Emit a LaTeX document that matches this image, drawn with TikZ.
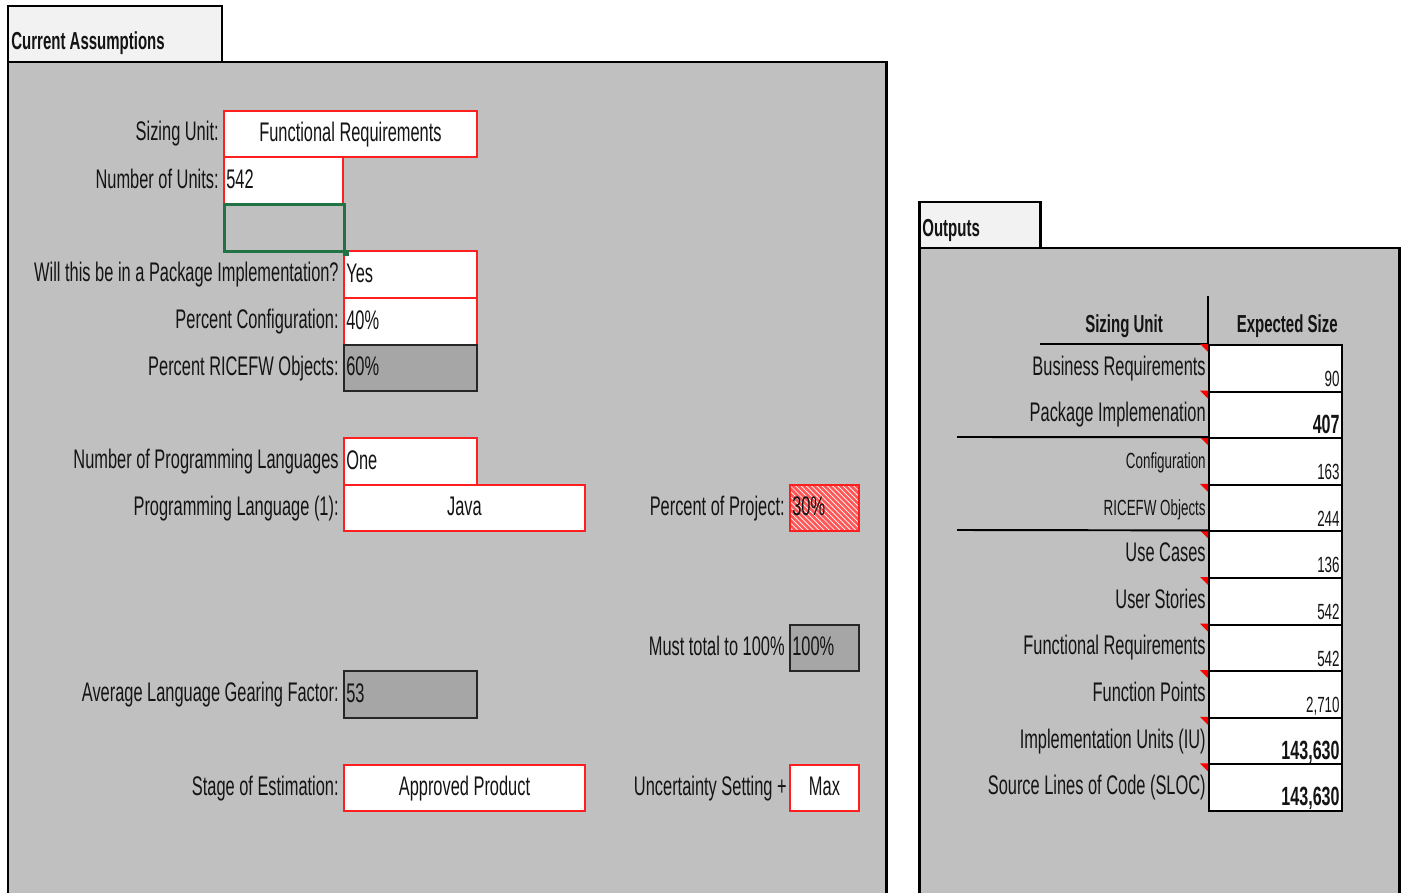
\documentclass[tikz,border=0pt]{standalone}
\usepackage{fontspec}
\setmainfont[FakeStretch=0.61]{Liberation Sans}
\usetikzlibrary{positioning}
\usetikzlibrary{patterns}
\definecolor{panelgray}{HTML}{C0C0C0}
\definecolor{tabgray}{HTML}{F2F2F2}
\definecolor{calcgray}{HTML}{A6A6A6}
\definecolor{selgreen}{HTML}{217346}
\definecolor{inred}{HTML}{FF1F1F}
\def\px{0.02cm}
\tikzstyle{panel}=[draw=black, fill=panelgray, line width=1.7pt]
\tikzstyle{tabbox}=[draw=black, fill=tabgray, line width=1.7pt]
\tikzstyle{lbl}=[anchor=east, inner sep=0pt, text height=1.1em, text depth=0.2em]
\tikzstyle{txt}=[inner sep=0pt, text height=1.1em, text depth=0.2em]
\tikzstyle{hdr}=[inner sep=0pt, font=\fontsize{14}{16}\selectfont\bfseries]
\tikzstyle{inbox}=[draw=inred, line width=1.1pt, fill=white, anchor=north west, inner sep=0pt]
\tikzstyle{calcbox}=[draw=black!85, line width=1.1pt, fill=calcgray, anchor=north west, inner sep=0pt]
\tikzstyle{outbox}=[draw=black, line width=1.1pt, fill=white, anchor=north west, inner sep=0pt]
\tikzstyle{hatchbox}=[draw=inred, line width=1.1pt, preaction={fill=inred!75}, pattern=north west lines, pattern color=white, anchor=north west, inner sep=0pt]
\tikzstyle{rule}=[draw=black, line width=1.1pt]
\tikzstyle{lbig}=[font=\fontsize{15.3}{18}\selectfont]
\tikzstyle{lsmall}=[font=\fontsize{12.5}{15}\selectfont]
\tikzstyle{vsmall}=[font=\fontsize{12.5}{15}\selectfont]
\tikzstyle{vbold}=[font=\fontsize{15}{18}\selectfont\bfseries]
\tikzset{wh/.style 2 args={minimum width=#1*\px, minimum height=#2*\px}}

\begin{document}
\begin{tikzpicture}[x=0.02cm, y=-0.02cm, font=\fontsize{15.3}{18}\selectfont, text=black!92]
    \useasboundingbox (0,0) rectangle (1405,892);
    \clip (0,0) rectangle (1405,892);

    % current assumptions panel
    \draw[panel] (8,62) rectangle (886,910);
    \draw[tabbox] (8,6) rectangle (222,62);
    \node[hdr, anchor=base west] (tabA) at (11,50) {Current Assumptions};

    \node[lbl] (lSU) at (219,133) {Sizing Unit:};
    \node[inbox, wh={253}{46}] (SU) at (223,110) {};
    \node[txt] (vSU) at (SU.center) {Functional Requirements};

    \node[lbl] (lNU) at (219,181) {Number of Units:};
    \node[inbox, wh={119}{47}] (NU) at (223,156) {};
    \node[txt, anchor=west] (vNU) at ([xshift=3*\px]NU.west) {542};

    \node[lbl] (lPI) at (339,274) {Will this be in a Package Implementation?};
    \node[inbox, wh={133}{47}] (PI) at (343,250) {};
    \node[txt, anchor=west] (vPI) at ([xshift=3*\px]PI.west) {Yes};

    \node[lbl] (lPC) at (339,321) {Percent Configuration:};
    \node[inbox, wh={133}{47}] (PC) at (343,297) {};
    \node[txt, anchor=west] (vPC) at ([xshift=3*\px]PC.west) {40\%};

    \node[lbl] (lPR) at (339,368) {Percent RICEFW Objects:};
    \node[calcbox, wh={133}{46}] (PR) at (343,344) {};
    \node[txt, anchor=west] (vPR) at ([xshift=3*\px]PR.west) {60\%};

    % selected cell
    \node[draw=selgreen, line width=1.7pt, fill=panelgray, anchor=north west, inner sep=0pt, wh={120}{47}] (SEL) at (223,203) {};
    \node[fill=selgreen, minimum size=6*\px, inner sep=0pt] (SELh) at (SEL.south east) {};

    \node[lbl] (lNL) at (339,461) {Number of Programming Languages};
    \node[inbox, wh={133}{47}] (NL) at (343,437) {};
    \node[txt, anchor=west] (vNL) at ([xshift=3*\px]NL.west) {One};

    \node[lbl] (lPL) at (339,508) {Programming Language (1):};
    \node[inbox, wh={241}{46}] (PL) at (343,484) {};
    \node[txt] (vPL) at (PL.center) {Java};

    \node[lbl] (lPP) at (785,508) {Percent of Project:};
    \node[hatchbox, wh={69}{46}] (PP) at (789,484) {};
    \node[txt, anchor=west] (vPP) at ([xshift=3*\px]PP.west) {30\%};

    \node[lbl] (lMT) at (785,648) {Must total to 100\%};
    \node[calcbox, wh={69}{46}] (MT) at (789,624) {};
    \node[txt, anchor=west] (vMT) at ([xshift=3*\px]MT.west) {100\%};

    \node[lbl] (lGF) at (339,694) {Average Language Gearing Factor:};
    \node[calcbox, wh={133}{47}] (GF) at (343,670) {};
    \node[txt, anchor=west] (vGF) at ([xshift=3*\px]GF.west) {53};

    \node[lbl] (lSE) at (339,788) {Stage of Estimation:};
    \node[inbox, wh={241}{46}] (SE) at (343,764) {};
    \node[txt] (vSE) at (SE.center) {Approved Product};

    \node[lbl] (lUS) at (787,788) {Uncertainty Setting +};
    \node[inbox, wh={69}{46}] (US) at (789,764) {};
    \node[txt] (vUS) at (US.center) {Max};

    % outputs panel
    \draw[panel] (919,248) rectangle (1399,910);
    \draw[tabbox] (919,202) rectangle (1040,248);
    \node[hdr, anchor=base west] (tabB) at (922,236) {Outputs};

    \node[hdr] (hSU) at (1124,326) {Sizing Unit};
    \node[hdr, anchor=east] (hES) at (1338,326) {Expected Size};
    \coordinate (hL) at (1040,344);
    \coordinate (hR) at (1208,344);
    \coordinate (hT) at (1208,296);
    \draw[rule] (hL) -- (hR) -- (hT);

    \foreach \i/\lab/\num/\lf/\vf in {
        1/Business Requirements/90/lbig/vsmall,
        2/Package Implemenation/407/lbig/vbold,
        3/Configuration/163/lsmall/vsmall,
        4/RICEFW Objects/244/lsmall/vsmall,
        5/Use Cases/136/lbig/vsmall,
        6/User Stories/542/lbig/vsmall,
        7/Functional Requirements/542/lbig/vsmall,
        8/Function Points/{2,710}/lbig/vsmall,
        9/Implementation Units (IU)/{143,630}/lbig/vbold,
        10/Source Lines of Code (SLOC)/{143,630}/lbig/vbold}{
        \pgfmathsetmacro\rtop{344+(\i-1)*46.6}
        \node[outbox, wh={133}{46.6}] (out\i) at (1208,\rtop) {};
        \node[lbl, \lf] (lab\i) at ([xshift=-2*\px, yshift=-23.3*\px]out\i.north west) {\lab};
        \node[\vf, inner sep=0pt, anchor=base east] (num\i) at ([xshift=-3*\px, yshift=6*\px]out\i.south east) {\num};
        \fill[red] ([xshift=-8*\px]out\i.north west) -- (out\i.north west) -- ([yshift=-8*\px]out\i.north west) -- cycle;
    }

    \coordinate (r1) at (957,437);
    \coordinate (r2) at (957,530);
    \draw[rule] (r1) -- (out3.north west);
    \draw[rule] (r2) -- (out5.north west);
\end{tikzpicture}
\end{document}
